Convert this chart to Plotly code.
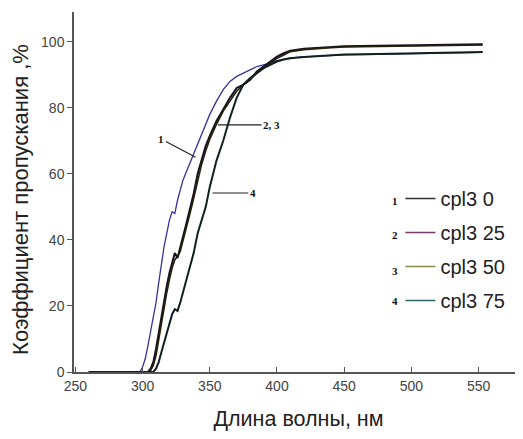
import plotly.graph_objects as go

# wavelength grid, nm
wl = [260, 296, 298, 300, 302, 304, 306, 308, 310, 312, 314, 316, 318, 320, 322, 324, 326,
      328, 330, 332, 335, 338, 341, 344, 347, 350, 355, 360, 365, 370, 375, 380, 385, 390,
      395, 400, 405, 410, 420, 430, 440, 450, 475, 500, 525, 553]

# transmission, %
t1 = [0, 0, 0, 1.5, 4, 8, 12, 16, 21, 27, 33, 38, 42, 46, 48.5, 48, 52, 55, 58, 60, 63, 66,
      69, 72, 75, 78, 82, 85.5, 88, 89.5, 90.5, 91.5, 92.5, 93, 93.5, 94.3, 94.8, 95.1, 95.4,
      95.6, 95.8, 96, 96.2, 96.4, 96.6, 96.8]
t2 = [0, 0, 0, 0, 0, 0, 1, 3, 7, 12, 17, 22, 26, 30, 33, 36, 34.5, 38, 41, 44, 49, 54, 60,
      64.5, 68.5, 71.5, 76, 79.5, 83, 86, 87, 88.5, 91, 92.5, 94, 95.5, 96.5, 97.3, 97.9,
      98.2, 98.4, 98.6, 98.8, 99, 99.1, 99.2]
t3 = [0, 0, 0, 0, 0, 0, 0.5, 2, 5, 10, 15, 20, 24, 28, 31.5, 34, 35, 36.5, 39.5, 42.5, 47.5,
      52.5, 58, 63, 67, 70.5, 75, 79, 82, 85, 87, 88.5, 90.5, 92, 93.5, 95, 96, 97, 97.6, 98,
      98.2, 98.4, 98.6, 98.8, 98.9, 99.0]
t4 = [0, 0, 0, 0, 0, 0, 0, 0, 1, 3, 6, 9, 12, 15, 17.5, 19, 18.5, 21, 24, 27, 31, 36, 42, 46,
      50, 56, 64, 70, 77, 83, 87, 89, 90.5, 92, 93, 94, 94.6, 95, 95.4, 95.7, 95.9, 96.1,
      96.3, 96.5, 96.7, 96.9]

names = ['cpl3 0', 'cpl3 25', 'cpl3 50', 'cpl3 75']
nums = ['1', '2', '3', '4']
plot_colors = ['#34349a', '#1a1020', '#22220a', '#102020']
plot_widths = [1.3, 2, 1.6, 2]
legend_colors = ['#333333', '#7a3a6a', '#8a8a50', '#2f6868']

fig = go.Figure()
for y, c, w in zip([t1, t2, t3, t4], plot_colors, plot_widths):
    fig.add_trace(go.Scatter(x=wl, y=y, mode='lines', line=dict(color=c, width=w),
                             showlegend=False))

for i, (n, c) in enumerate(zip(names, legend_colors)):
    fig.add_trace(go.Scatter(x=[None], y=[None], mode='lines', name=n,
                             line=dict(color=c, width=1.5), legendgroup=str(i)))

serif = dict(family='Liberation Serif, Times New Roman', size=11, color='#111')
for i, n in enumerate(nums):
    fig.add_annotation(xref='paper', yref='paper', x=0.726, y=[0.475, 0.381, 0.281, 0.197][i],
                       text='<b>' + n + '</b>', showarrow=False, font=serif,
                       xanchor='right', yanchor='middle')

# curve labels with leader lines
fig.add_annotation(x=339.5, y=65, ax=314, ay=70.5, axref='x', ayref='y', text='<b>1</b>',
                   showarrow=True, arrowhead=0, arrowwidth=1.2, arrowcolor='#222', font=serif)
fig.add_annotation(x=356, y=74.8, ax=396, ay=74.8, axref='x', ayref='y', text='<b>2, 3</b>',
                   showarrow=True, arrowhead=0, arrowwidth=1.2, arrowcolor='#222', font=serif,
                   standoff=0)
fig.add_annotation(x=352, y=54.2, ax=382, ay=54.2, axref='x', ayref='y', text='<b>4</b>',
                   showarrow=True, arrowhead=0, arrowwidth=1.2, arrowcolor='#222', font=serif)

# y axis title as rotated text, placed further left than the axis title allows
fig.add_annotation(xref='paper', yref='paper', x=0, y=0.478, xshift=-53,
                   text='Коэффициент пропускания ,%', textangle=-90, showarrow=False,
                   xanchor='center', yanchor='middle',
                   font=dict(size=22, color='#222', family='Arial, Liberation Sans'))

sans = 'Arial, Liberation Sans'
fig.update_layout(
    width=515, height=431,
    margin=dict(l=66, r=0, t=4, b=67),
    plot_bgcolor='white', paper_bgcolor='white',
    font=dict(family=sans, color='#222'),
    legend=dict(x=0.727, y=0.536, xanchor='left', yanchor='top', font=dict(size=20, family=sans),
                tracegroupgap=5, bgcolor='rgba(0,0,0,0)'),
)
fig.update_xaxes(range=[249, 583], tickvals=[250, 300, 350, 400, 450, 500, 550],
                 ticks='inside', ticklen=5, tickcolor='#555', showgrid=False, zeroline=False,
                 showline=True, linecolor='#555', linewidth=1.5, automargin=False,
                 tickfont=dict(size=14, color='#444'),
                 title=dict(text='Длина волны, нм', font=dict(size=21.5, color='#222'),
                            standoff=18))
fig.update_yaxes(range=[0, 109], tickvals=[0, 20, 40, 60, 80, 100],
                 ticks='outside', ticklen=5, tickcolor='#555', showgrid=False, zeroline=False,
                 showline=True, linecolor='#555', linewidth=1.5, automargin=False,
                 tickfont=dict(size=14, color='#444'))

fig.write_html("out.html")
